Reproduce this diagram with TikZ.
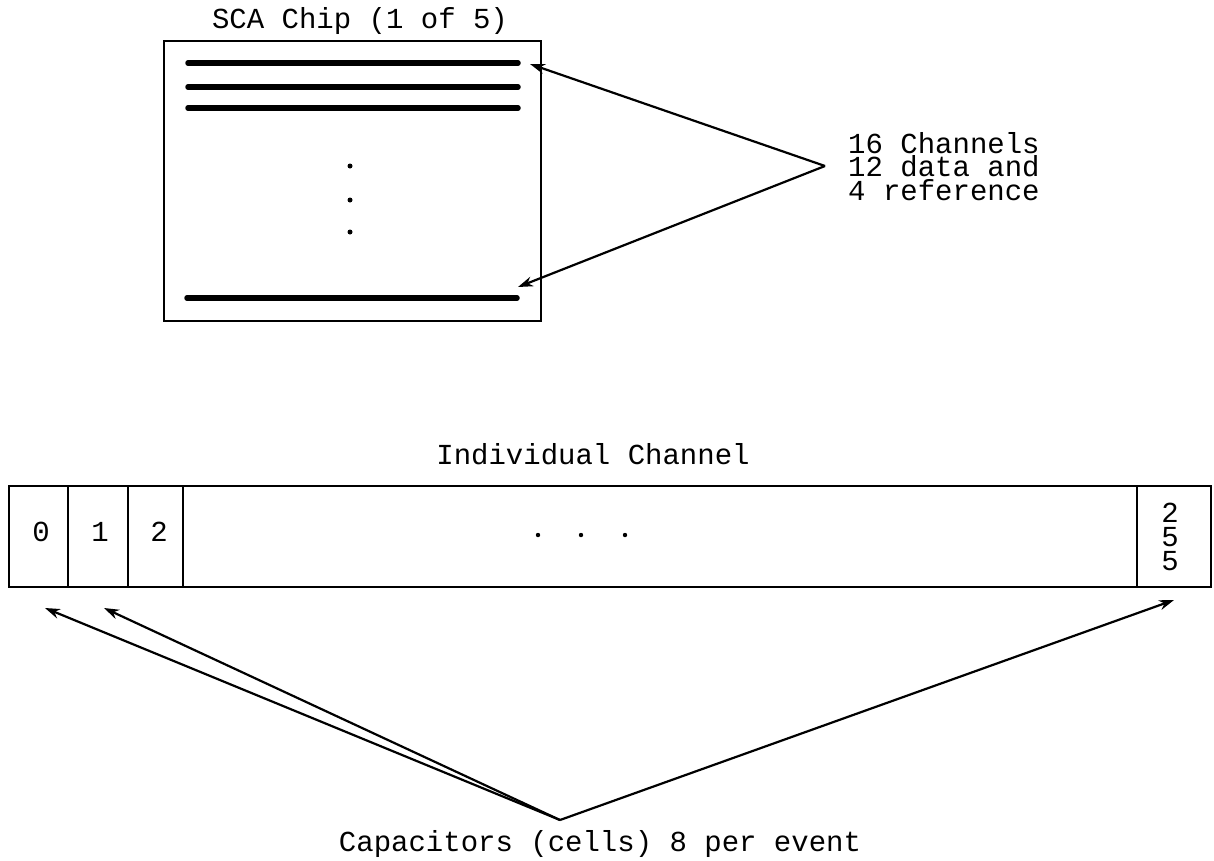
\documentclass[tikz,border=0pt]{standalone}
\usepackage{fontspec}
\setmainfont{Liberation Mono}
\usetikzlibrary{arrows.meta}
\tikzset{
  lbl/.style={inner sep=0pt, font=\fontsize{29}{23.5}\selectfont},
  frame/.style={draw=black, line width=2.2pt},
  chan/.style={line width=5.5pt, line cap=round},
  pointer/.style={line width=2.2pt, -{Stealth[length=15pt,width=10pt]}},
  dotmark/.style={fill=black}
}
\begin{document}
\begin{tikzpicture}[x=1pt,y=-1pt]
\useasboundingbox (0,0) rectangle (1214,860);
\fill[white] (0,0) rectangle (1214,860);

% SCA chip
\node[lbl, anchor=base] (chiptitle) at (360,28) {SCA Chip (1 of 5)};
\draw[frame] (164,41) rectangle (541,321);
\coordinate (chipbox) at (352,181);
\draw[chan] (188,63) -- (518,63);
\draw[chan] (188,87) -- (518,87);
\draw[chan] (188,108) -- (518,108);
\draw[chan] (187,298) -- (517,298);
\fill[dotmark] (350,166) circle (2.5pt);
\fill[dotmark] (350,200) circle (2.5pt);
\fill[dotmark] (350,232) circle (2.5pt);

% channel label and arrows
\node[lbl, anchor=base west, align=left] (chtext) at (848,200) {16 Channels\\12 data and\\4 reference};
\coordinate (apexA) at (825,166);
\coordinate (tipA1) at (530,64);
\coordinate (tipA2) at (518,287);
\draw[pointer] (apexA) -- (tipA1);
\draw[pointer] (apexA) -- (tipA2);

% individual channel
\node[lbl, anchor=base] (indtitle) at (593,464) {Individual Channel};
\draw[frame] (9,486) rectangle (1211,587);
\draw[frame] (68,486) -- (68,587);
\draw[frame] (128,486) -- (128,587);
\draw[frame] (183,486) -- (183,587);
\draw[frame] (1137,486) -- (1137,587);
\node[lbl] (c0) at (41,532) {0};
\node[lbl] (c1) at (100,532) {1};
\node[lbl] (c2) at (159,532) {2};
\node[lbl] (c255a) at (1170,513) {2};
\node[lbl] (c255b) at (1170,537) {5};
\node[lbl] (c255c) at (1170,561) {5};
\fill[dotmark] (538,535) circle (2.2pt);
\fill[dotmark] (581,535) circle (2.2pt);
\fill[dotmark] (625,535) circle (2.2pt);

% capacitors
\node[lbl, anchor=base] (captext) at (600,851) {Capacitors (cells) 8 per event};
\coordinate (apexB) at (560,820);
\coordinate (tipB1) at (45,608);
\coordinate (tipB2) at (104,608);
\coordinate (tipB3) at (1174,600);
\draw[pointer] (apexB) -- (tipB1);
\draw[pointer] (apexB) -- (tipB2);
\draw[pointer] (apexB) -- (tipB3);
\end{tikzpicture}
\end{document}
